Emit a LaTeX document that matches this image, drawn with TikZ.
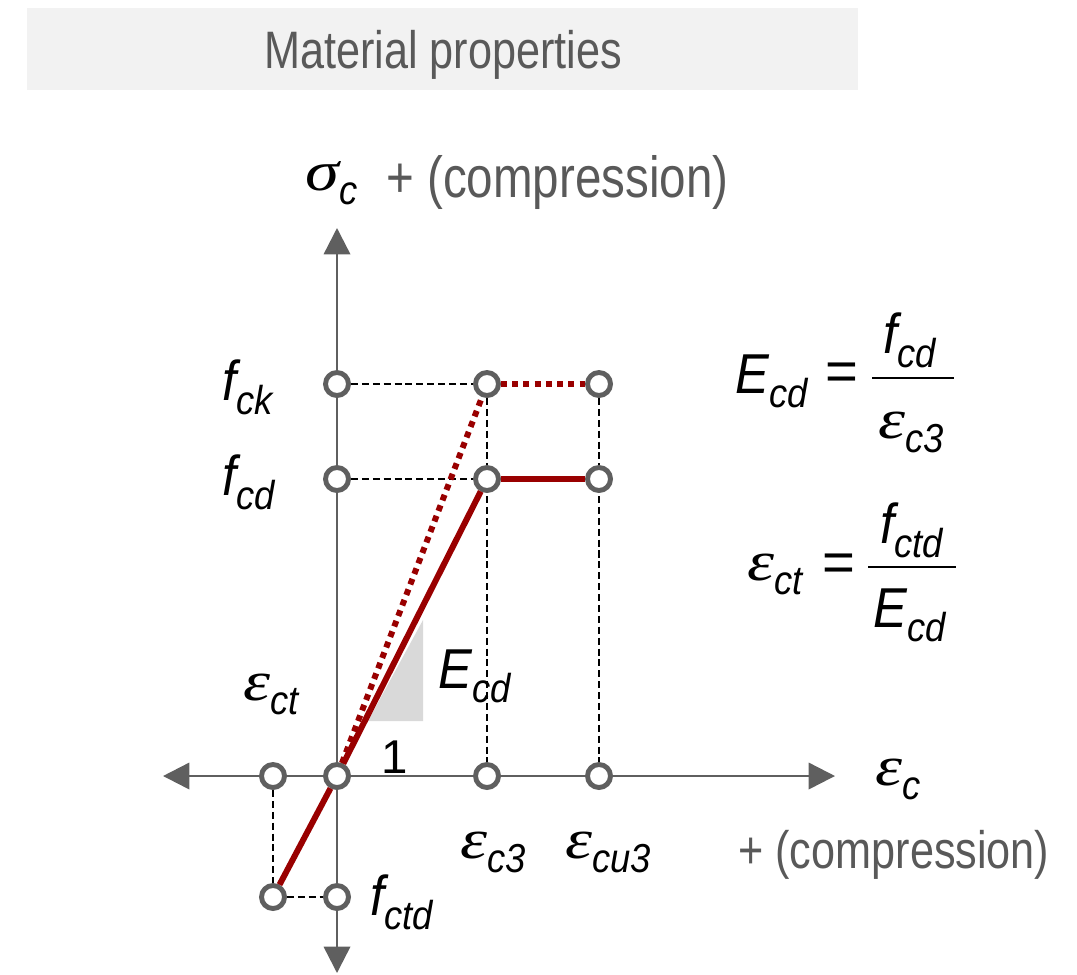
\documentclass[tikz,border=0pt]{standalone}
\usepackage{fontspec}
\setmainfont[FakeStretch=0.82]{Liberation Sans}
\newfontfamily\lblfont[FakeStretch=0.9]{Liberation Sans}
\newfontfamily\grkfont[FakeStretch=1.22]{Liberation Serif}
\newfontfamily\eqfont{Liberation Sans}
\usetikzlibrary{arrows.meta,positioning,backgrounds}
\definecolor{axisgray}{HTML}{5F5F5F}
\definecolor{txtgray}{HTML}{595959}
\definecolor{boxgray}{HTML}{F2F2F2}
\definecolor{slopegray}{HTML}{D9D9D9}
\definecolor{lawred}{HTML}{990000}
\newcommand{\qsub}[1]{\raisebox{-8.5pt}{\fontsize{23}{26}\selectfont\lblfont\itshape #1}}
\newcommand{\qlat}[2]{{\fontsize{32}{36}\selectfont\lblfont\itshape #1}\qsub{#2}}
\newcommand{\qgrk}[2]{{\fontsize{32}{36}\selectfont\grkfont\itshape #1}\qsub{#2}}

\begin{document}
\begin{tikzpicture}[x=0.02cm, y=-0.02cm,
  pt/.style={circle, draw=axisgray, line width=2.8pt, fill=white, inner sep=0pt, minimum size=0.46cm},
  axis/.style={draw=axisgray, line width=1.4pt, {Triangle[length=15pt,width=15pt]}-{Triangle[length=15pt,width=15pt]}},
  guide/.style={draw=black, line width=0.8pt, dash pattern=on 4pt off 2.2pt},
  law/.style={draw=lawred, line width=3.4pt},
  lawdot/.style={draw=lawred, line width=3.4pt, dash pattern=on 3.4pt off 3pt},
  lbl/.style={anchor=base west, inner sep=0pt},
  note/.style={anchor=base west, inner sep=0pt, text=txtgray, font=\fontsize{#1}{34}\selectfont},
  fracbar/.style={draw=black, line width=1.5pt}
]
  \useasboundingbox (0,0) rectangle (1077,974);
  \fill[boxgray] (27,8) rectangle (858,90);
  \node[anchor=base, inner sep=0pt, text=txtgray, font=\fontsize{30}{34}\selectfont] (title) at (443,68) {Material properties};

  \coordinate (ytop) at (337,228);
  \coordinate (ybot) at (337,973);
  \coordinate (xleft) at (163,776);
  \coordinate (xright) at (835,776);

  \node[pt] (fck) at (337,384) {};
  \node[pt] (fcd) at (337,479) {};
  \node[pt] (k3) at (487,384) {};
  \node[pt] (ku) at (599,384) {};
  \node[pt] (d3) at (487,479) {};
  \node[pt] (du) at (599,479) {};
  \node[pt] (o) at (337,776) {};
  \node[pt] (ect) at (273,776) {};
  \node[pt] (ec3) at (487,776) {};
  \node[pt] (ecu) at (599,776) {};
  \node[pt] (tpt) at (273,897) {};
  \node[pt] (ftd) at (337,897) {};

  \begin{scope}[on background layer]
    \draw[axis] (ybot) -- (ytop);
    \draw[axis] (xleft) -- (xright);
    \fill[slopegray] (368,721) -- (423,721) -- (423,620) -- cycle;
    \draw[guide] (fck) -- (k3);
    \draw[guide] (fcd) -- (d3);
    \draw[guide] (k3) -- (ec3);
    \draw[guide] (ku) -- (ecu);
    \draw[guide] (ect) -- (tpt);
    \draw[guide] (tpt) -- (ftd);
  \end{scope}
  \draw[lawdot] (o) -- (k3);
  \draw[lawdot] (k3) -- (ku);
  \draw[law] (tpt) -- (o);
  \draw[law] (o) -- (d3);
  \draw[law] (d3) -- (du);

  \node[lbl] (sig) at (305,190) {\qgrk{σ}{c}};
  \node[note=33] (topnote) at (386,197) {+ (compression)};
  \node[lbl] (lfck) at (222,400) {\qlat{f}{ck}};
  \node[lbl] (lfcd) at (222,495) {\qlat{f}{cd}};
  \node[lbl] (lect) at (243,700) {\qgrk{ε}{ct}};
  \node[lbl] (slope) at (438,688) {\qlat{E}{cd}};
  \node[lbl, font=\fontsize{27}{30}\selectfont\eqfont] (one) at (381,773) {1};
  \node[lbl] (lec) at (875,785) {\qgrk{ε}{c}};
  \node[lbl] (lec3) at (460,858) {\qgrk{ε}{c3}};
  \node[lbl] (lecu) at (565,858) {\qgrk{ε}{cu3}};
  \node[note=30] (botnote) at (738,868) {+ (compression)};
  \node[lbl] (lftd) at (370,915) {\qlat{f}{ctd}};

  \node[lbl] (eqEl) at (735,393) {\qlat{E}{cd}};
  \node[inner sep=0pt, font=\fontsize{32}{36}\selectfont\eqfont] (eqEeq) at (842,377) {=};
  \node[lbl] (eqEn) at (883,353) {\qlat{f}{cd}};
  \node[lbl] (eqEd) at (878,438) {\qgrk{ε}{c3}};
  \draw[fracbar] (872,378) -- (954,378);

  \node[lbl] (eqTl) at (747,580) {\qgrk{ε}{ct}};
  \node[inner sep=0pt, font=\fontsize{32}{36}\selectfont\eqfont] (eqTeq) at (839,568) {=};
  \node[lbl] (eqTn) at (880,543) {\qlat{f}{ctd}};
  \node[lbl] (eqTd) at (873,627) {\qlat{E}{cd}};
  \draw[fracbar] (868,567) -- (956,567);
\end{tikzpicture}
\end{document}
